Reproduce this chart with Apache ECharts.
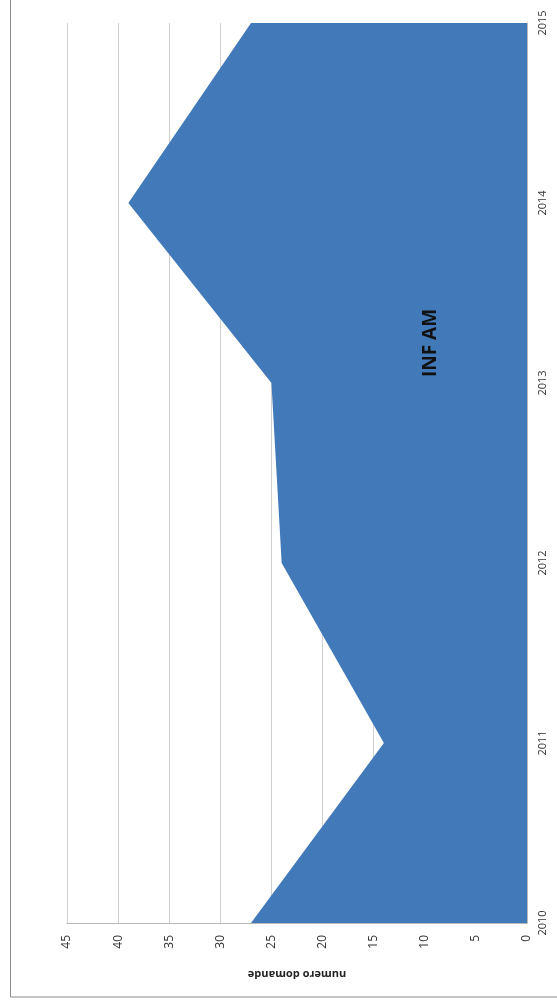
<!DOCTYPE html>
<html>
<head>
<meta charset="utf-8">
<script src="https://cdn.jsdelivr.net/npm/echarts@6/dist/echarts.min.js"></script>
<style>
  html, body { margin: 0; padding: 0; background: #fff; }
  #chart { width: 557px; height: 1008px; }
</style>
</head>
<body>
<div id="chart"></div>
<script>
// dati
const anni = ['2010', '2011', '2012', '2013', '2014', '2015']
const domande = [27, 14, 24, 25, 39, 27]
const titolo = 'INF AM'
const nomeAsse = 'numero domande'

const FONT = '"Open Sans", "Liberation Sans", Arial, sans-serif'
const chart = echarts.init(document.getElementById('chart'))

chart.setOption({
  animation: false,
  grid: { left: 67, right: 30, top: 23, bottom: 85 },
  xAxis: {
    type: 'value',
    min: 0,
    max: 45,
    interval: 5,
    inverse: true,
    position: 'bottom',
    name: nomeAsse,
    nameLocation: 'middle',
    nameGap: 46,
    nameRotate: 180,
    nameTextStyle: { fontFamily: FONT, fontSize: 11, fontWeight: 'bold', color: '#222' },
    axisLine: { show: true, lineStyle: { color: '#b8b8b8', width: 1 } },
    axisTick: { show: false },
    axisLabel: { rotate: 90, margin: 12, fontFamily: FONT, fontSize: 12, color: '#333' },
    splitLine: { show: true, lineStyle: { color: '#cfcfcf', width: 1 } }
  },
  yAxis: {
    type: 'category',
    data: anni,
    position: 'right',
    boundaryGap: false,
    axisLine: { show: true, lineStyle: { color: '#b8b8b8', width: 1 } },
    axisTick: { show: false },
    axisLabel: { rotate: 90, margin: 10, fontFamily: FONT, fontSize: 11, color: '#333' },
    splitLine: { show: false }
  },
  series: [{
    type: 'line',
    data: domande,
    showSymbol: false,
    lineStyle: { width: 0 },
    areaStyle: { color: '#427ab9', opacity: 1 }
  }],
  graphic: [
    {
      type: 'rect',
      shape: { x: 10.5, y: -5, width: 560, height: 1002 },
      style: { fill: 'none', stroke: '#8a8a8a', lineWidth: 1 },
      silent: true
    },
    {
      type: 'text',
      x: 431,
      y: 343,
      rotation: Math.PI / 2,
      style: {
        text: titolo,
        fontFamily: FONT,
        fontSize: 19,
        fontWeight: 'bold',
        fill: '#111',
        align: 'center',
        verticalAlign: 'middle'
      },
      z: 10
    }
  ]
})
</script>
</body>
</html>
